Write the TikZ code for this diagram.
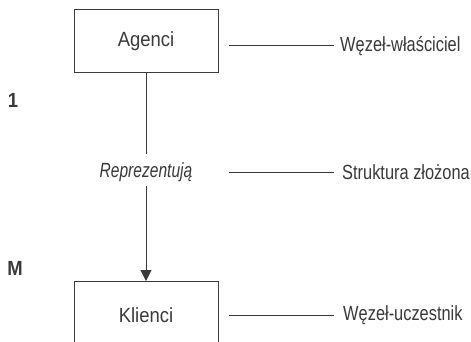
\documentclass[tikz,border=0pt]{standalone}
\usepackage{fontspec}
\setmainfont[FakeStretch=0.9]{Liberation Sans}
\newfontfamily\narrowfont[FakeStretch=0.8]{Liberation Sans}
\newfontfamily\narrowerfont[FakeStretch=0.76]{Liberation Sans}
\usetikzlibrary{arrows.meta}
\definecolor{ink}{HTML}{3A3A3A}
\begin{document}
\begin{tikzpicture}[x=1pt,y=-1pt,
  every node/.style={text=ink,font=\fontsize{20.5}{24}\selectfont},
  box/.style={draw=ink,line width=1pt,minimum width=144pt,minimum height=63pt,inner sep=0pt},
  lbl/.style={anchor=west,inner sep=0pt,font=\narrowfont\fontsize{20.5}{24}\selectfont},
  conn/.style={draw=ink,line width=1pt}]
\useasboundingbox[fill=white] (0,0) rectangle (471,342);
\node[box] (ag) at (146,41.5) {Agenci};
\node[box,anchor=north] (kl) at (146,281) {};
\node (kt) at (146,315) {Klienci};
\node[font=\narrowerfont\fontsize{20.5}{24}\selectfont] (rep) at (146,172) {\itshape Reprezentują};
\node[inner sep=0pt] (one) at (13,100) {\bfseries 1};
\node[inner sep=0pt] (m) at (15,268) {\bfseries M};
\coordinate (a1) at (229,46);
\coordinate (a2) at (334,46);
\coordinate (b1) at (229,172);
\coordinate (b2) at (334,172);
\coordinate (c1) at (229,315);
\coordinate (c2) at (334,315);
\node[lbl] (la) at (340,46) {Węzeł-właściciel};
\node[lbl] (lb) at (342,172) {Struktura złożona};
\node[lbl] (lc) at (343,315) {Węzeł-uczestnik};
\draw[conn] (a1) -- (a2);
\draw[conn] (b1) -- (b2);
\draw[conn] (c1) -- (c2);
\draw[conn] (ag.south) -- (146,154);
\draw[conn,-{Triangle[length=11pt,width=11pt]}] (146,186) -- (kl.north);
\end{tikzpicture}
\end{document}
